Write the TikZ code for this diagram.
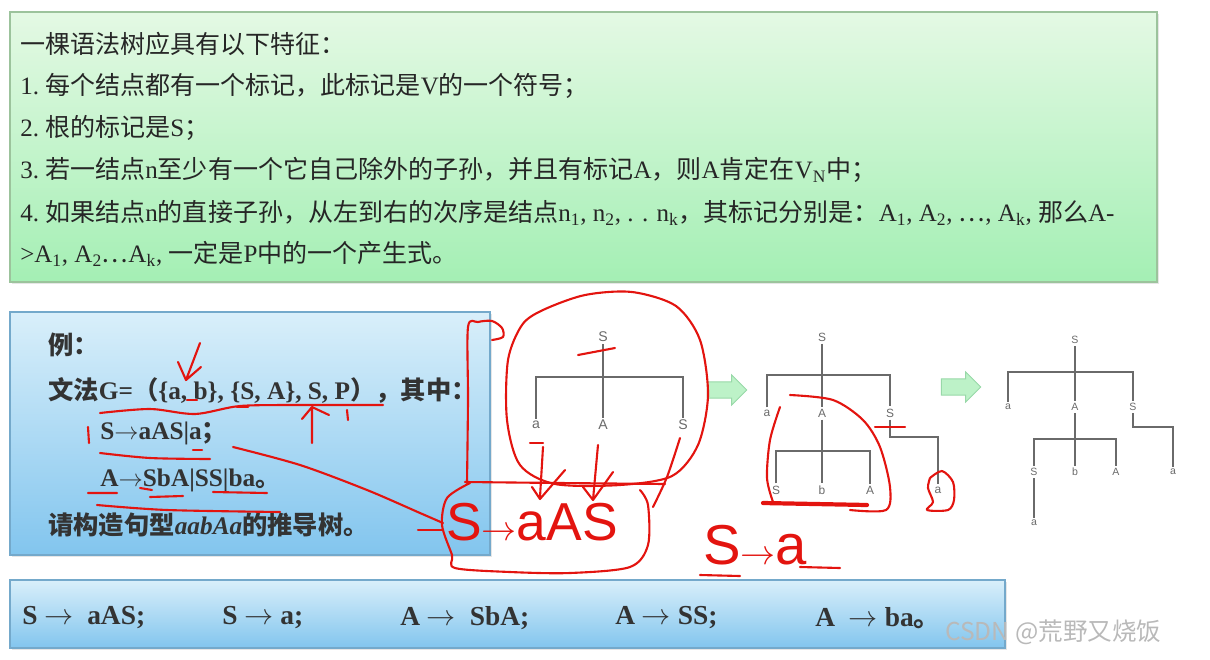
\documentclass[tikz,border=0pt]{standalone}
\usepackage{fontspec}
\setmainfont{Liberation Serif}
\setsansfont{Liberation Sans}
\newfontfamily\cjk{Noto Sans CJK SC}
\newcommand{\zh}[1]{{\cjk #1}}
\usetikzlibrary{positioning,shapes.arrows,shadows}

\definecolor{topgreen}{HTML}{E4F9E4}
\definecolor{botgreen}{HTML}{A4EFB4}
\definecolor{edgegreen}{HTML}{9CC39C}
\definecolor{topblue}{HTML}{D9EFFA}
\definecolor{botblue}{HTML}{82C5EE}
\definecolor{edgeblue}{HTML}{74A9CB}
\definecolor{treegray}{HTML}{6A6A6A}
\definecolor{inkred}{HTML}{E3140F}
\definecolor{arrowfill}{HTML}{BDF2C8}
\definecolor{arrowedge}{HTML}{98D8A8}

\begin{document}
\begin{tikzpicture}[
    % 定義樣式
    x=0.025cm, y=-0.025cm,
    greenbox/.style={draw=edgegreen, line width=0.8pt, top color=topgreen, bottom color=botgreen,
        drop shadow={opacity=0.2, shadow xshift=1.5pt, shadow yshift=-1.5pt}},
    bluebox/.style={draw=edgeblue, line width=0.8pt, top color=topblue, bottom color=botblue,
        drop shadow={opacity=0.2, shadow xshift=1.5pt, shadow yshift=-1.5pt}},
    feat/.style={anchor=west, inner sep=0pt, text=black!85, font=\fontsize{17.8}{20}\selectfont},
    ex/.style={anchor=west, inner sep=0pt, text=black!80, font=\bfseries\fontsize{18}{20}\selectfont},
    prod/.style={anchor=west, inner sep=0pt, text=black!80, font=\bfseries\fontsize{19.5}{21}\selectfont},
    lbl/.style={inner sep=1.5pt, text=treegray, font=\sffamily\fontsize{10}{10}\selectfont},
    lbl small/.style={lbl, font=\sffamily\fontsize{8.5}{8.5}\selectfont},
    lbl tiny/.style={lbl, font=\sffamily\fontsize{7.5}{7.5}\selectfont},
    branch/.style={draw=treegray, line width=0.9pt},
    go arrow/.style={single arrow, draw=arrowedge, fill=arrowfill, line width=0.6pt,
        minimum height=28pt, inner sep=5.5pt, single arrow head extend=5pt},
    ink/.style={draw=inkred, line width=1.5pt, line cap=round, line join=round},
    scribble/.style={inner sep=0pt, text=inkred, font=\sffamily\fontsize{38}{38}\selectfont}
]
    \useasboundingbox (0,0) rectangle (1210,659);

    % --- 1. 上方：语法树的特征 ---
    \path[greenbox] (10,12) rectangle (1157,282);
    \node[feat] (f0) at (20,44) {\zh{一棵语法树应具有以下特征：}};
    \node[feat] (f1) at (20,86) {1.\ \zh{每个结点都有一个标记，此标记是}V\zh{的一个符号；}};
    \node[feat] (f2) at (20,128) {2.\ \zh{根的标记是}S\zh{；}};
    \node[feat] (f3) at (20,170) {3.\ \zh{若一结点}n\zh{至少有一个它自己除外的子孙，并且有标记}A\zh{，则}A\zh{肯定在}V\textsubscript{N}\zh{中；}};
    \node[feat] (f4) at (20,213) {4.\ \zh{如果结点}n\zh{的直接子孙，从左到右的次序是结点}n\textsubscript{1}, n\textsubscript{2}, . . n\textsubscript{k}\zh{，其标记分别是：}A\textsubscript{1}, A\textsubscript{2}, \zh{…}, A\textsubscript{k}, \zh{那么}A-};
    \node[feat] (f5) at (20,254) {>A\textsubscript{1}, A\textsubscript{2}\zh{…}A\textsubscript{k}, \zh{一定是}P\zh{中的一个产生式。}};

    % --- 2. 左边：例题 ---
    \path[bluebox] (10,312) rectangle (490,555);
    \node[ex] (e0) at (48,345) {\zh{例：}};
    \node[ex] (e1) at (48,390) {\zh{文法}G=\zh{（}\{a, b\}, \{S, A\}, S, P\zh{），其中：}};
    \node[ex] (e2) at (100,433) {S$\rightarrow$aAS|a\zh{；}};
    \node[ex] (e3) at (100,480) {A$\rightarrow$SbA|SS|ba\zh{。}};
    \node[ex] (e4) at (48,525) {\zh{请构造句型}\textit{aabAa}\zh{的推导树。}};

    % --- 3. 下方：产生式 ---
    \path[bluebox] (10,580) rectangle (1005,648);
    \node[prod] (p1) at (22,618) {S $\rightarrow$\ \ aAS;};
    \node[prod] (p2) at (222,618) {S $\rightarrow$ a;};
    \node[prod] (p3) at (400,618) {A $\rightarrow$\ \ SbA;};
    \node[prod] (p4) at (615,618) {A $\rightarrow$ SS;};
    \node[prod] (p5) at (815,618) {A\ \ $\rightarrow$ ba\zh{。}};
    \node[anchor=west, inner sep=0pt, text=gray!55, font=\cjk\fontsize{17.5}{18}\selectfont] (wm) at (945,632) {CSDN @荒野又烧饭};

    % --- 4. 推导树 (Tree 1) ---
    \node[lbl] (r1) at (603,337) {S};
    \node[lbl] (r1a) at (536,425) {a};
    \node[lbl] (r1A) at (603,425) {A};
    \node[lbl] (r1S) at (683,425) {S};
    \coordinate (b1) at (603,377);
    \draw[branch] (r1) -- (r1A);
    \draw[branch] (r1a) |- (b1) -| (r1S);

    \node[go arrow] (g1) at (723,390) {};

    % --- 5. 推导树 (Tree 2) ---
    \node[lbl small] (r2) at (822,337) {S};
    \node[lbl small] (r2a) at (767,413) {a};
    \node[lbl small] (r2A) at (822,413) {A};
    \node[lbl small] (r2S) at (890,413) {S};
    \node[lbl small] (r2As) at (776,490) {S};
    \node[lbl small] (r2Ab) at (822,490) {b};
    \node[lbl small] (r2AA) at (870,490) {A};
    \node[lbl small] (r2Sa) at (938,490) {a};
    \coordinate (b2) at (822,375);
    \coordinate (b2A) at (822,451);
    \coordinate (k2) at (938,437);
    \draw[branch] (r2) -- (r2A);
    \draw[branch] (r2a) |- (b2) -| (r2S);
    \draw[branch] (r2A) -- (r2Ab);
    \draw[branch] (r2As) |- (b2A) -| (r2AA);
    \draw[branch] (r2S) |- (k2) -- (r2Sa);

    \node[go arrow] (g2) at (957,387) {};

    % --- 6. 推导树 (Tree 3) ---
    \node[lbl tiny] (r3) at (1075,340) {S};
    \node[lbl tiny] (r3a) at (1008,407) {a};
    \node[lbl tiny] (r3A) at (1075,407) {A};
    \node[lbl tiny] (r3S) at (1133,407) {S};
    \node[lbl tiny] (r3As) at (1034,472) {S};
    \node[lbl tiny] (r3Ab) at (1075,472) {b};
    \node[lbl tiny] (r3AA) at (1116,472) {A};
    \node[lbl tiny] (r3Sa) at (1173,472) {a};
    \node[lbl tiny] (r3Asa) at (1034,523) {a};
    \coordinate (b3) at (1075,372);
    \coordinate (b3A) at (1075,439);
    \coordinate (k3) at (1173,427);
    \draw[branch] (r3) -- (r3A);
    \draw[branch] (r3a) |- (b3) -| (r3S);
    \draw[branch] (r3A) -- (r3Ab);
    \draw[branch] (r3As) |- (b3A) -| (r3AA);
    \draw[branch] (r3S) |- (k3) -- (r3Sa);
    \draw[branch] (r3As) -- (r3Asa);

    % --- 7. 红色手写批注 ---
    % 例题上的记号
    \draw[ink] (200,343) -- (186,380) (178,362) -- (186,380) -- (201,367);
    \draw[ink] plot[smooth] coordinates {(100,413) (150,409) (195,414) (240,406) (300,405) (383,405)};
    \draw[ink] (187,400) -- (197,400) (237,407) -- (248,407);
    \draw[ink] (312,443) -- (312,408) (302,419) -- (312,407) -- (329,415);
    \draw[ink] (347,410) -- (348,420);
    \draw[ink] (88,427) -- (89,443);
    \draw[ink] plot[smooth] coordinates {(100,453) (150,458) (210,459)};
    \draw[ink] (193,450) -- (202,450);
    \draw[ink] (88,493) -- (117,493) (140,488) -- (152,490) (150,497) -- (183,496) (213,492) -- (267,493);
    \draw[ink] plot[smooth] coordinates {(97,505) (167,510) (280,512)};
    \draw[ink] plot[smooth] coordinates {(233,447) (300,465) (367,490) (420,513) (443,523)};
    \draw[ink] (418,530) -- (443,530);
    \draw[ink] plot[smooth] coordinates {(467,483) (468,400) (468,327) (478,322) (492,321) (502,328) (503,337) (492,340)};

    % 第一棵树：圈与 S->aAS
    \draw[ink] plot[smooth cycle] coordinates {(543,310) (585,295) (632,292) (676,306) (700,340) (708,395) (698,445) (672,476) (620,485) (555,484) (520,465) (507,420) (508,360) (522,325)};
    \draw[ink] (578,355) -- (615,348);
    \draw[ink] (530,443) -- (543,443);
    \draw[ink] (543,447) -- (540,497) (532,487) -- (540,499) -- (565,470);
    \draw[ink] (598,445) -- (593,500) (583,487) -- (593,500) -- (613,472);
    \draw[ink] plot[smooth] coordinates {(680,438) (667,477) (653,507)};
    \draw[ink] plot[smooth] coordinates {(465,482) (560,483) (665,484)};
    \draw[ink] plot[smooth] coordinates {(470,483) (447,498) (442,525) (452,555) (455,568) (510,572) (570,573) (630,567) (648,545) (648,505) (640,490)};
    \node[scribble, anchor=west] (h1) at (446,522) {S$\rightarrow$aAS};

    % 第二棵树：圈与 S->a
    \draw[ink] plot[smooth] coordinates {(790,395) (833,400) (863,420) (880,447) (890,487) (886,510) (850,510)};
    \draw[ink] plot[smooth] coordinates {(780,407) (770,440) (767,478) (773,502)};
    \draw[ink, line width=3pt] (763,503) -- (867,505);
    \draw[ink] (875,427) -- (905,427);
    \draw[ink] plot[smooth] coordinates {(930,478) (942,471) (953,482) (954,500) (948,510) (927,510) (933,502) (928,488) (930,478)};
    \node[scribble, anchor=west, font=\sffamily\fontsize{40}{40}\selectfont] (h2) at (703,545) {S$\rightarrow$a};
    \draw[ink] (800,567) -- (840,568) (700,575) -- (740,576);

\end{tikzpicture}
\end{document}
